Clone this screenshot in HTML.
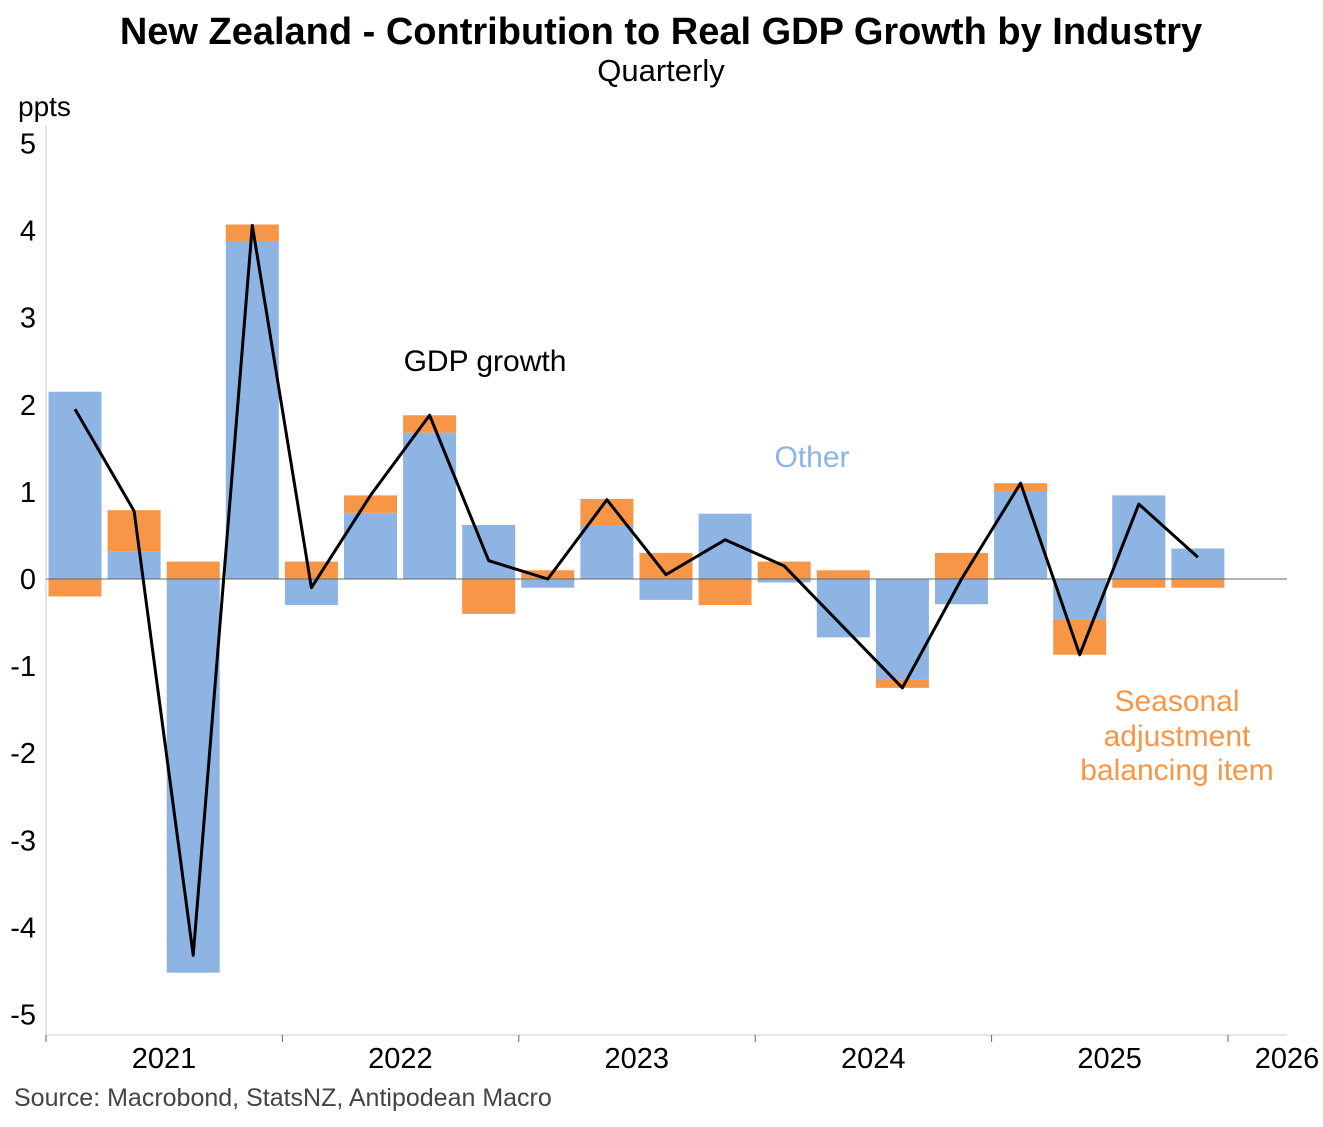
<!DOCTYPE html>
<html><head><meta charset="utf-8"><style>
body{margin:0;background:#fff;}
svg text{font-family:"Liberation Sans",Arial,sans-serif;}
</style></head><body>
<svg id="c" width="1323" height="1122" xmlns="http://www.w3.org/2000/svg">
<text x="661" y="44" text-anchor="middle" font-size="38" font-weight="bold">New Zealand - Contribution to Real GDP Growth by Industry</text>
<text x="661" y="81" text-anchor="middle" font-size="31">Quarterly</text>
<text x="18" y="116" font-size="28">ppts</text>
<text x="14" y="1106" font-size="25" fill="#444">Source: Macrobond, StatsNZ, Antipodean Macro</text>
<text x="485" y="371" text-anchor="middle" font-size="30">GDP growth</text>
<text x="812" y="467" text-anchor="middle" font-size="30" fill="#8db4e2">Other</text>
<g fill="#f79646" font-size="30" text-anchor="middle">
<text x="1177" y="711">Seasonal</text><text x="1177" y="746">adjustment</text><text x="1177" y="780">balancing item</text>
</g>
<g id="plot"></g>
</svg>
<script>
const other=[2.15,0.32,-4.52,3.87,-0.3,0.76,1.68,0.62,-0.1,0.62,-0.24,0.75,-0.04,-0.67,-1.15,-0.29,1.0,-0.47,0.96,0.35];
const seasonal=[-0.2,0.47,0.2,0.2,0.2,0.2,0.2,-0.4,0.1,0.3,0.3,-0.3,0.2,0.1,-0.1,0.3,0.1,-0.4,-0.1,-0.1];
const gdp=[1.95,0.78,-4.32,4.06,-0.1,0.96,1.88,0.21,0.0,0.91,0.05,0.45,0.15,-0.55,-1.25,0.0,1.1,-0.87,0.86,0.25];
const yTicks=[5,4,3,2,1,0,-1,-2,-3,-4,-5];
const years=["2021","2022","2023","2024","2025","2026"];
const NS="http://www.w3.org/2000/svg";
const g=document.getElementById('plot');
const y=v=>579-v*87.1;
const xq=i=>75+i*59.1;
const bw=53;
function mk(t,a){const e=document.createElementNS(NS,t);for(const k in a)e.setAttribute(k,a[k]);g.appendChild(e);return e;}
let ax=mk('line',{x1:46,y1:125,x2:46,y2:1035,stroke:'#ccc'});


let bx=mk('line',{x1:46,y1:1035,x2:1287,y2:1035,stroke:'#ccc'});


yTicks.forEach(v=>{
 const t=mk('text',{x:36,y:y(v)+10,'text-anchor':'end','font-size':29});
 t.textContent=v;
 
 
});
for(let k=0;k<=5;k++){
 const x=46+k*236.4;
 const tk=mk('line',{x1:x,y1:1035,x2:x,y2:1042,stroke:'#666'});
 
 
}
years.forEach((s,k)=>{
 const cx=k<5?164+k*236.4:1287;
 const t=mk('text',{x:cx,y:1068,'text-anchor':'middle','font-size':29});
 t.textContent=s;
 
 
});
other.forEach((o,i)=>{
 const s=seasonal[i];
 let pos=0,neg=0;
 [[o,'#8db4e2','bar-other'],[s,'#f79646','bar-seasonal']].forEach(([v,c,n])=>{
  let a,b;
  if(v>=0){a=pos;b=pos+v;pos=b;}else{a=neg;b=neg+v;neg=b;}
  const r=mk('rect',{x:xq(i)-bw/2,y:Math.min(y(a),y(b)),width:bw,height:Math.abs(y(a)-y(b)),fill:c});
  
  
 });
});
let zl=mk('line',{x1:46,y1:579,x2:1287,y2:579,stroke:'#666','stroke-width':1});


const ln=mk('polyline',{points:gdp.map((v,i)=>xq(i)+','+y(v)).join(' '),fill:'none',stroke:'#000','stroke-width':3,'stroke-linejoin':'round'});


</script>
</body></html>
